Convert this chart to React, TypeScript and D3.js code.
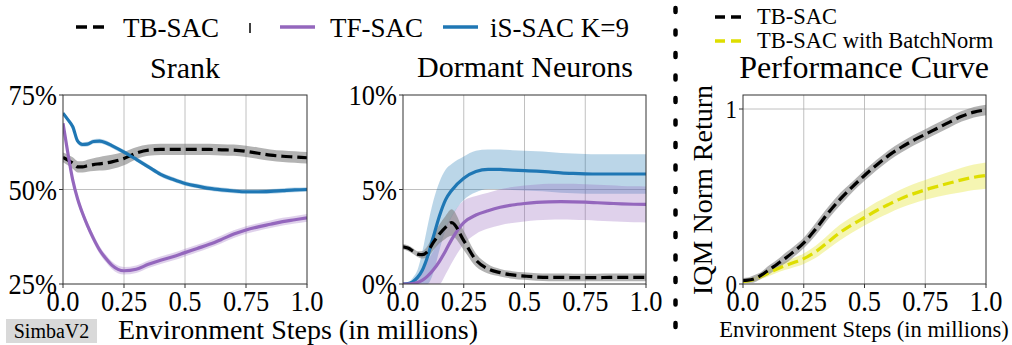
import * as d3 from "d3";

// x positions (millions of environment steps) shared by every curve
const steps = [0, 0.02, 0.04, 0.06, 0.08, 0.1, 0.125, 0.15, 0.175, 0.2, 0.25, 0.3, 0.35, 0.4, 0.45, 0.5, 0.55, 0.6, 0.65, 0.7, 0.75, 0.8, 0.85, 0.9, 0.95, 1.0];

// Srank (%)
const srankTB = [58.5, 57.8, 57.0, 56.0, 56.0, 56.3, 56.6, 56.8, 57.0, 57.3, 58.2, 59.6, 60.4, 60.6, 60.6, 60.6, 60.6, 60.6, 60.5, 60.4, 60.1, 59.6, 59.1, 58.8, 58.6, 58.4];
const srankTBErr = [1.3, 1.4, 1.5, 1.5, 1.5, 1.6, 1.7, 1.8, 1.9, 1.9, 1.8, 1.6, 1.5, 1.5, 1.5, 1.5, 1.5, 1.5, 1.5, 1.5, 1.5, 1.5, 1.5, 1.5, 1.5, 1.5];
const srankTF = [67.5, 59.6, 52.5, 47.5, 43.7, 40.5, 37.0, 34.0, 31.8, 30.0, 28.5, 28.9, 30.2, 31.3, 32.2, 33.3, 34.4, 35.5, 36.8, 38.2, 39.3, 40.1, 40.8, 41.5, 42.0, 42.5];
const srankTFErr = [0.6, 0.8, 0.9, 1.0, 1.0, 1.0, 1.0, 1.0, 1.0, 1.0, 1.0, 1.0, 1.0, 1.0, 1.0, 1.0, 1.0, 1.0, 1.0, 1.0, 1.0, 1.0, 1.0, 1.0, 1.0, 1.0];
const srankIS = [70.2, 68.5, 66.6, 62.8, 61.9, 62.0, 62.7, 62.8, 62.4, 61.6, 59.9, 58.0, 56.0, 54.0, 52.7, 51.6, 50.9, 50.3, 49.9, 49.6, 49.4, 49.4, 49.5, 49.7, 49.9, 50.0];
const srankISErr = [0.5, 0.5, 0.6, 0.6, 0.6, 0.6, 0.6, 0.6, 0.6, 0.6, 0.6, 0.6, 0.6, 0.6, 0.6, 0.6, 0.6, 0.6, 0.6, 0.6, 0.6, 0.6, 0.6, 0.6, 0.6, 0.6];

// Dormant neurons (%)
const dormTB = [1.97, 1.9, 1.75, 1.58, 1.55, 1.7, 2.2, 2.65, 3.0, 3.25, 2.3, 1.27, 0.8, 0.6, 0.48, 0.42, 0.37, 0.35, 0.35, 0.34, 0.34, 0.34, 0.35, 0.35, 0.35, 0.35];
const dormTBErr = [0.15, 0.15, 0.15, 0.15, 0.2, 0.3, 0.4, 0.5, 0.6, 0.7, 0.5, 0.35, 0.25, 0.2, 0.2, 0.2, 0.2, 0.2, 0.2, 0.2, 0.2, 0.2, 0.2, 0.2, 0.2, 0.2];
const dormTF = [0, 0, 0.02, 0.08, 0.2, 0.4, 0.75, 1.2, 1.75, 2.35, 3.25, 3.65, 3.88, 4.06, 4.18, 4.26, 4.32, 4.35, 4.36, 4.35, 4.33, 4.3, 4.27, 4.24, 4.22, 4.21];
const dormTFErr = [0, 0.02, 0.1, 0.25, 0.5, 0.8, 1.0, 1.2, 1.25, 1.25, 1.15, 1.0, 0.95, 0.95, 0.95, 0.95, 0.95, 0.95, 0.95, 0.95, 0.95, 0.95, 0.95, 0.95, 0.95, 0.95];
const dormIS = [0, 0.02, 0.12, 0.35, 0.74, 1.4, 2.5, 3.6, 4.45, 4.95, 5.6, 5.95, 6.07, 6.06, 6.03, 6.0, 5.97, 5.93, 5.88, 5.85, 5.83, 5.82, 5.82, 5.82, 5.82, 5.82];
const dormISErr = [0, 0.05, 0.2, 0.4, 1.0, 1.6, 1.9, 1.8, 1.6, 1.4, 1.15, 1.1, 1.05, 1.05, 1.05, 1.05, 1.05, 1.05, 1.05, 1.05, 1.05, 1.05, 1.05, 1.05, 1.05, 1.05];

// IQM normalized return
const perfTB = [0.02, 0.022, 0.027, 0.038, 0.055, 0.074, 0.098, 0.123, 0.148, 0.175, 0.235, 0.315, 0.405, 0.485, 0.555, 0.62, 0.68, 0.735, 0.78, 0.82, 0.855, 0.89, 0.925, 0.958, 0.982, 0.995];
const perfTBErr = [0.015, 0.015, 0.02, 0.02, 0.02, 0.025, 0.025, 0.025, 0.03, 0.03, 0.03, 0.035, 0.035, 0.035, 0.03, 0.03, 0.03, 0.03, 0.03, 0.03, 0.03, 0.03, 0.03, 0.03, 0.03, 0.03];
const perfBN = [0.015, 0.018, 0.025, 0.035, 0.048, 0.06, 0.076, 0.092, 0.105, 0.118, 0.145, 0.185, 0.24, 0.295, 0.34, 0.38, 0.42, 0.455, 0.488, 0.515, 0.538, 0.558, 0.577, 0.595, 0.61, 0.62];
const perfBNErr = [0.01, 0.01, 0.012, 0.014, 0.016, 0.018, 0.02, 0.022, 0.024, 0.026, 0.03, 0.035, 0.04, 0.045, 0.045, 0.045, 0.048, 0.05, 0.052, 0.055, 0.057, 0.06, 0.064, 0.07, 0.073, 0.075];

const xTicks = [0, 0.25, 0.5, 0.75, 1.0];
const xTickLabels = ["0.0", "0.25", "0.5", "0.75", "1.0"];

const FONT = "Liberation Serif";
const BLUE = "#1f77b4";
const PURPLE = "#9467bd";
const YELLOW = "#dede00";

// rough Times glyph widths so tick labels can be squeezed like the original
const glyphWidth = (s) =>
  s.split("").reduce((w, c) => w + (c === "." ? 0.25 : c === "%" ? 0.833 : 0.5), 0);

const T = ({ children, size, ...rest }) => (
  <text {...rest} style={{ fontFamily: FONT, fontSize: size }}>
    {children}
  </text>
);

const Squeezed = ({ x, y, text, size, anchor }) => (
  <T
    x={x}
    y={y}
    size={size}
    textAnchor={anchor}
    textLength={glyphWidth(text) * size * 0.88}
    lengthAdjust="spacingAndGlyphs"
  >
    {text}
  </T>
);

const Panel = ({ left, right, top, bottom, yDomain, yTicks, yTickLabels, yTickSize, gridY, series }) => {
  const x = d3.scaleLinear().domain([0, 1]).range([left, right]);
  const y = d3.scaleLinear().domain(yDomain).range([bottom, top]);
  const line = d3
    .line()
    .x((d) => x(d[0]))
    .y((d) => y(d[1]))
    .curve(d3.curveMonotoneX);
  const area = d3
    .area()
    .x((d) => x(d[0]))
    .y0((d) => y(d[1]))
    .y1((d) => y(d[2]))
    .curve(d3.curveMonotoneX);

  return (
    <g>
      <defs>
        <clipPath id={`clip-${left}`}>
          <rect x={left} y={top} width={right - left} height={bottom - top} />
        </clipPath>
      </defs>
      {/* grid */}
      {xTicks.slice(1, -1).map((t) => (
        <line key={t} x1={x(t)} x2={x(t)} y1={top} y2={bottom} stroke="#b0b0b0" strokeWidth={0.8} />
      ))}
      {gridY.map((t) => (
        <line key={t} x1={left} x2={right} y1={y(t)} y2={y(t)} stroke="#b0b0b0" strokeWidth={0.8} />
      ))}

      <g clipPath={`url(#clip-${left})`}>
        {series.map((s, i) => {
          const band = steps.map((t, j) => [t, Math.max(yDomain[0], s.mean[j] - s.err[j]), s.mean[j] + s.err[j]]);
          return <path key={"b" + i} d={area(band)} fill={s.band} fillOpacity={s.bandOpacity} stroke="none" />;
        })}
        {series.map((s, i) => (
          <path
            key={"l" + i}
            d={line(steps.map((t, j) => [t, s.mean[j]]))}
            fill="none"
            stroke={s.color}
            strokeWidth={3.2}
            strokeDasharray={s.dashed ? "11 5" : null}
          />
        ))}
      </g>

      {/* frame */}
      <rect x={left} y={top} width={right - left} height={bottom - top} fill="none" stroke="#333" strokeWidth={1} />

      {/* x ticks */}
      {xTicks.map((t, i) => (
        <g key={t}>
          <line x1={x(t)} x2={x(t)} y1={bottom} y2={bottom + 4} stroke="#333" />
          <Squeezed x={x(t)} y={bottom + 27} text={xTickLabels[i]} size={30} anchor="middle" />
        </g>
      ))}
      {/* y ticks */}
      {yTicks.map((t, i) => (
        <g key={t}>
          <line x1={left - 4} x2={left} y1={y(t)} y2={y(t)} stroke="#333" />
          <Squeezed x={left - 6} y={y(t) + yTickSize * 0.34} text={yTickLabels[i]} size={yTickSize} anchor="end" />
        </g>
      ))}
    </g>
  );
};

export default function App() {
  return (
    <svg
      width={1012}
      height={345}
      style={{ position: "absolute", left: 0, top: 0, background: "white", fontFamily: FONT }}
    >
      {/* left legend */}
      <line x1={76} x2={106} y1={27} y2={27} stroke="black" strokeWidth={3.5} strokeDasharray="11 6" />
      <T x={123} y={37} size={27}>TB-SAC</T>
      <line x1={250} x2={250} y1={23} y2={33} stroke="black" strokeWidth={1.5} />
      <line x1={280} x2={315} y1={27} y2={27} stroke={PURPLE} strokeWidth={3.5} />
      <T x={330} y={37} size={27}>TF-SAC</T>
      <line x1={443} x2={478} y1={27} y2={27} stroke={BLUE} strokeWidth={3.5} />
      <T x={490} y={37} size={27}>iS-SAC K=9</T>

      {/* right legend */}
      <line x1={715} x2={743} y1={17} y2={17} stroke="black" strokeWidth={3.5} strokeDasharray="10 6" />
      <T x={757} y={24} size={22.5}>TB-SAC</T>
      <line x1={715} x2={743} y1={41} y2={41} stroke={YELLOW} strokeWidth={3.5} strokeDasharray="10 6" />
      <T x={757} y={48} size={22.5}>TB-SAC with BatchNorm</T>

      {/* titles */}
      <T x={185} y={78} size={30} textAnchor="middle">Srank</T>
      <T x={525} y={77} size={30} textAnchor="middle">Dormant Neurons</T>
      <T x={864} y={78} size={32} textAnchor="middle">Performance Curve</T>

      <Panel
        left={63}
        right={307}
        top={95}
        bottom={284}
        yDomain={[25, 75]}
        yTicks={[25, 50, 75]}
        yTickLabels={["25%", "50%", "75%"]}
        yTickSize={30}
        gridY={[50]}
        series={[
          { mean: srankTB, err: srankTBErr, color: "black", band: "#808080", bandOpacity: 0.6, dashed: true },
          { mean: srankTF, err: srankTFErr, color: PURPLE, band: PURPLE, bandOpacity: 0.3, dashed: false },
          { mean: srankIS, err: srankISErr, color: BLUE, band: BLUE, bandOpacity: 0.3, dashed: false },
        ]}
      />
      <Panel
        left={403}
        right={646}
        top={95}
        bottom={284}
        yDomain={[0, 10]}
        yTicks={[0, 5, 10]}
        yTickLabels={["0%", "5%", "10%"]}
        yTickSize={30}
        gridY={[5]}
        series={[
          { mean: dormIS, err: dormISErr, color: BLUE, band: BLUE, bandOpacity: 0.3, dashed: false },
          { mean: dormTF, err: dormTFErr, color: PURPLE, band: PURPLE, bandOpacity: 0.3, dashed: false },
          { mean: dormTB, err: dormTBErr, color: "black", band: "#808080", bandOpacity: 0.6, dashed: true },
        ]}
      />
      <Panel
        left={743}
        right={986}
        top={95}
        bottom={284}
        yDomain={[0, 1.08]}
        yTicks={[0, 1]}
        yTickLabels={["0", "1"]}
        yTickSize={26}
        gridY={[1]}
        series={[
          { mean: perfBN, err: perfBNErr, color: YELLOW, band: YELLOW, bandOpacity: 0.3, dashed: true },
          { mean: perfTB, err: perfTBErr, color: "black", band: "#808080", bandOpacity: 0.6, dashed: true },
        ]}
      />

      {/* axis labels */}
      <T x={298} y={339} size={28} textAnchor="middle">Environment Steps (in millions)</T>
      <T x={864} y={337} size={22.5} textAnchor="middle">Environment Steps (in millions)</T>
      <T transform="translate(712,190) rotate(-90)" size={28} textAnchor="middle">
        IQM Norm Return
      </T>

      {/* method tag */}
      <rect x={6} y={319} width={91} height={24} fill="#d9d9d9" />
      <T x={51.5} y={338} size={20} textAnchor="middle">SimbaV2</T>

      {/* dotted separator */}
      <line x1={675.5} x2={675.5} y1={8} y2={345} stroke="black" strokeWidth={4.5} strokeDasharray="4 18.5" strokeLinecap="round" />
    </svg>
  );
}
